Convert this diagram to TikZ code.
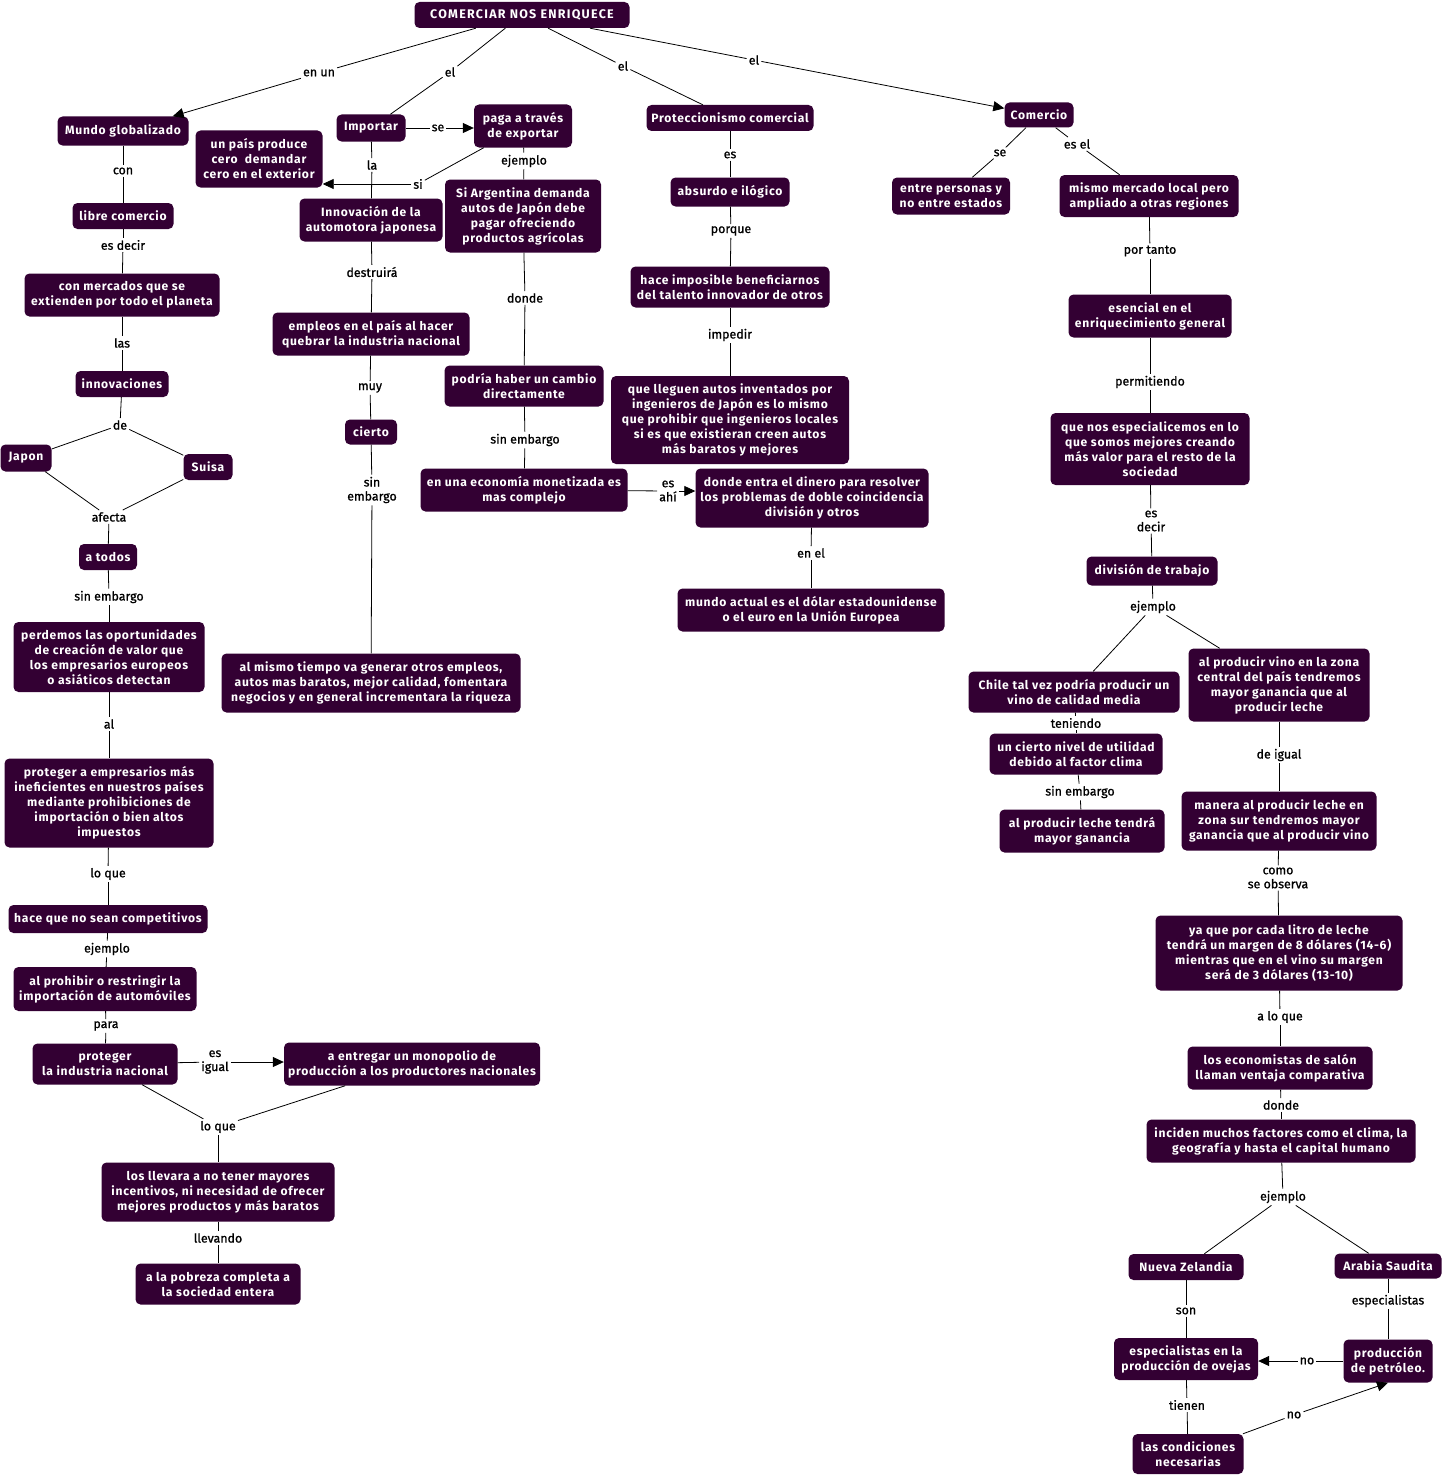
\documentclass[tikz,border=0pt]{standalone}
\usepackage{fontspec}
\setmainfont{Fira Sans}
\newfontfamily\nodefam{Fira Sans}[LetterSpace=6]
\newfontfamily\titlefam{Fira Sans}[LetterSpace=10]
\newfontfamily\lblfam{Fira Sans}[FakeBold=1]
\usetikzlibrary{arrows.meta}
\definecolor{cmap}{RGB}{51,0,51}
\newcommand\mkc[6]{\node[cpt,minimum width=#4pt,minimum height=#5pt] (#1) at (#2,#3) {#6};}
\newcommand\mkl[4]{\node[lbl] (#1) at (#2,#3) {#4};}
\begin{document}
\begin{tikzpicture}[x=1pt,y=-1pt,
 cpt/.style={fill=cmap, rounded corners=5pt, text=white, font=\nodefam\bfseries\fontsize{12.1}{15}\selectfont, align=center, inner sep=1pt},
 lbl/.style={font=\lblfam\fontsize{12.4}{14}\selectfont, inner sep=2pt, align=center},
 ln/.style={line width=0.8pt},
 arr/.style={line width=0.8pt, -{Triangle[length=11pt,width=10pt]}}
]
\useasboundingbox (0,0) rectangle (1443,1477);
% ---------- concepts ----------
\mkc{top}{522}{15}{215}{26}{\titlefam\bfseries\fontsize{12.5}{13}\selectfont COMERCIAR NOS ENRIQUECE}
\mkc{mundo}{123}{131}{131}{29}{Mundo globalizado}
\mkc{importar}{371}{128}{69}{27}{Importar}
\mkc{paga}{523}{126}{98}{43}{paga a través\\de exportar}
\mkc{unpais}{259}{159}{127}{57}{un país produce\\cero~ demandar\\cero en el exterior}
\mkc{innovjap}{371}{220}{143}{43}{Innovación de la\\automotora japonesa}
\mkc{argentina}{523}{216}{156}{73}{Si Argentina demanda\\autos de Japón debe\\pagar ofreciendo\\productos agrícolas}
\mkc{protec}{730}{118}{167}{26}{Proteccionismo comercial}
\mkc{absurdo}{730}{192}{119}{29}{absurdo e ilógico}
\mkc{hace}{730}{287}{199}{41}{hace imposible beneficiarnos\\del talento innovador de otros}
\mkc{llegue}{730}{420}{238}{88}{que lleguen autos inventados por\\ingenieros de Japón es lo mismo\\que prohibir que ingenieros locales\\si es que existieran creen autos\\más baratos y mejores}
\mkc{comercio}{1039}{115}{69}{25}{Comercio}
\mkc{entre}{951}{196}{118}{37}{entre personas y\\no entre estados}
\mkc{mismo}{1149}{196}{179}{42}{mismo mercado local pero\\ampliado a otras regiones}
\mkc{esencial}{1150}{316}{163}{43}{esencial en el\\enriquecimiento general}
\mkc{especial}{1150}{449}{199}{72}{que nos especialicemos en lo\\que somos mejores creando\\más valor para el resto de la\\sociedad}
\mkc{division}{1152}{571}{131}{29}{división de trabajo}
\mkc{chile}{1074}{692}{211}{41}{Chile tal vez podría producir un\\vino de calidad media}
\mkc{vino}{1279}{685}{181}{73}{al producir vino en la zona\\central del país tendremos\\mayor ganancia que al\\producir leche}
\mkc{cierto2}{1076}{754}{173}{41}{un cierto nivel de utilidad\\debido al factor clima}
\mkc{leche}{1082}{831}{165}{43}{al producir leche tendrá\\mayor ganancia}
\mkc{manera}{1279}{821}{195}{59}{manera al producir leche en\\zona sur tendremos mayor\\ganancia que al producir vino}
\mkc{yaque}{1279}{953}{247}{75}{ya que por cada litro de leche\\tendrá un margen de 8 dólares (14-6)\\mientras que en el vino su margen\\será de 3 dólares (13-10)}
\mkc{economistas}{1280}{1068}{185}{43}{los economistas de salón\\llaman ventaja comparativa}
\mkc{inciden}{1281}{1141}{269}{43}{inciden muchos factores como el clima, la\\geografía y hasta el capital humano}
\mkc{nz}{1186}{1267}{115}{26}{Nueva Zelandia}
\mkc{arabia}{1388}{1266}{107}{25}{Arabia Saudita}
\mkc{espov}{1186}{1359}{144}{42}{especialistas en la\\producción de ovejas}
\mkc{petro}{1388}{1361}{89}{43}{producción\\de petróleo.}
\mkc{condiciones}{1188}{1454}{111}{40}{las condiciones\\necesarias}
\mkc{empleos}{371}{334}{197}{43}{empleos en el país al hacer\\quebrar la industria nacional}
\mkc{cierto}{371}{432}{52}{25}{cierto}
\mkc{almismo}{371}{683}{299}{59}{al mismo tiempo va generar otros empleos,\\autos mas baratos, mejor calidad, fomentara\\negocios y en general incrementara la riqueza}
\mkc{podria}{524}{386}{159}{41}{podría haber un cambio\\directamente}
\mkc{economia}{524}{490}{207}{43}{en una economía monetizada es\\mas complejo}
\mkc{dinero}{812}{498}{233}{59}{donde entra el dinero para resolver\\los problemas de doble coincidencia\\división y otros}
\mkc{mundoact}{811}{610}{267}{43}{mundo actual es el dólar estadounidense\\o el euro en la Unión Europea}
\mkc{libre}{123}{216}{101}{26}{libre comercio}
\mkc{mercados}{122}{295}{195}{43}{con mercados que se\\extienden por todo el planeta}
\mkc{innov}{122}{384}{93}{26}{innovaciones}
\mkc{japon}{26}{458}{51}{27}{Japon}
\mkc{suisa}{208}{467}{49}{26}{Suisa}
\mkc{atodos}{108}{557}{58}{26}{a todos}
\mkc{perdemos}{109}{657}{191}{70}{perdemos las oportunidades\\de creación de valor que\\los empresarios europeos\\o asiáticos detectan}
\mkc{protegerEmp}{109}{803}{209}{89}{proteger a empresarios más\\ineficientes en nuestros países\\mediante prohibiciones de\\importación o bien altos\\impuestos}
\mkc{hacequeno}{108}{919}{199}{28}{hace que no sean competitivos}
\mkc{prohibir}{105}{989}{183}{44}{al prohibir o restringir la\\importación de automóviles}
\mkc{protInd}{105}{1064}{145}{41}{proteger\\la industria nacional}
\mkc{monop}{412}{1064}{256}{43}{a entregar un monopolio de\\producción a los productores nacionales}
\mkc{llevara}{218}{1192}{233}{59}{los llevara a no tener mayores\\incentivos, ni necesidad de ofrecer\\mejores productos y más baratos}
\mkc{pobreza}{218}{1284}{165}{41}{a la pobreza completa a\\la sociedad entera}
% ---------- linking phrases ----------
\mkl{enun}{319}{73}{en un}
\mkl{elA}{450}{72}{el}
\mkl{elB}{623}{66}{el}
\mkl{elC}{754}{60}{el}
\mkl{con}{123}{171}{con}
\mkl{esdecirA}{123}{245}{es decir}
\mkl{las}{122}{343}{las}
\mkl{de}{120}{425}{de}
\mkl{afecta}{109}{517}{afecta}
\mkl{sinembA}{109}{597}{sin embargo}
\mkl{al}{109}{724}{al}
\mkl{loqueA}{108}{874}{lo que}
\mkl{ejA}{107}{949}{ejemplo}
\mkl{para}{106}{1026}{para}
\mkl{esigual}{215}{1062}{es\\igual}
\mkl{loqueB}{218}{1127}{lo que}
\mkl{llevando}{218}{1238}{llevando}
\mkl{se}{438}{128}{se}
\mkl{la}{372}{165}{la}
\mkl{si}{418}{184}{si}
\mkl{ejB}{524}{161}{ejemplo}
\mkl{destruira}{372}{272}{destruirá}
\mkl{muy}{370}{388}{muy}
\mkl{sinembB}{372}{490}{sin\\embargo}
\mkl{dondeA}{525}{298}{donde}
\mkl{sinembC}{525}{440}{sin embargo}
\mkl{esahi}{668}{491}{es\\ahí}
\mkl{es}{730}{155}{es}
\mkl{porque}{731}{231}{porque}
\mkl{impedir}{730}{335}{impedir}
\mkl{enel}{811}{553}{en el}
\mkl{seB}{1000}{153}{se}
\mkl{esel}{1077}{144}{es el}
\mkl{portanto}{1150}{251}{por tanto}
\mkl{permitiendo}{1150}{382}{permitiendo}
\mkl{esdecirB}{1151}{521}{es\\decir}
\mkl{ejC}{1153}{607}{ejemplo}
\mkl{teniendo}{1076}{723}{teniendo}
\mkl{sinembD}{1080}{792}{sin embargo}
\mkl{deigual}{1279}{755}{de igual}
\mkl{como}{1278}{878}{como\\se observa}
\mkl{aloque}{1280}{1017}{a lo que}
\mkl{dondeB}{1281}{1105}{donde}
\mkl{ejD}{1283}{1197}{ejemplo}
\mkl{son}{1186}{1311}{son}
\mkl{especialistas}{1388}{1301}{especialistas}
\mkl{noA}{1307}{1361}{no}
\mkl{tienen}{1187}{1405}{tienen}
\mkl{noB}{1294}{1415}{no}
% ---------- connectors ----------
\draw[ln] (top) -- (enun); \draw[arr] (enun) -- (mundo);
\draw[ln] (top) -- (elA); \draw[ln] (elA) -- (importar);
\draw[ln] (top) -- (elB); \draw[ln] (elB) -- (protec);
\draw[ln] (top) -- (elC); \draw[arr] (elC) -- (comercio);
\draw[ln] (mundo) -- (con); \draw[ln] (con) -- (libre);
\draw[ln] (libre) -- (esdecirA); \draw[ln] (esdecirA) -- (mercados);
\draw[ln] (mercados) -- (las); \draw[ln] (las) -- (innov);
\draw[ln] (innov) -- (de); \draw[ln] (de) -- (japon); \draw[ln] (de) -- (suisa);
\draw[ln] (japon) -- (afecta); \draw[ln] (suisa) -- (afecta); \draw[ln] (afecta) -- (atodos);
\draw[ln] (atodos) -- (sinembA); \draw[ln] (sinembA) -- (perdemos);
\draw[ln] (perdemos) -- (al); \draw[ln] (al) -- (protegerEmp);
\draw[ln] (protegerEmp) -- (loqueA); \draw[ln] (loqueA) -- (hacequeno);
\draw[ln] (hacequeno) -- (ejA); \draw[ln] (ejA) -- (prohibir);
\draw[ln] (prohibir) -- (para); \draw[ln] (para) -- (protInd);
\draw[ln] (protInd) -- (esigual); \draw[arr] (esigual) -- (esigual -| monop.west);
\draw[ln] (protInd) -- (loqueB); \draw[ln] (monop) -- (loqueB); \draw[ln] (loqueB) -- (llevara);
\draw[ln] (llevara) -- (llevando); \draw[ln] (llevando) -- (pobreza);
\draw[ln] (importar) -- (se); \draw[arr] (se) -- (se -| paga.west);
\draw[ln] (importar) -- (la); \draw[ln] (la) -- (innovjap);
\draw[ln] (paga) -- (si); \draw[arr] (si) -- (si -| unpais.east);
\draw[ln] (paga) -- (ejB); \draw[ln] (ejB) -- (argentina);
\draw[ln] (innovjap) -- (destruira); \draw[ln] (destruira) -- (empleos);
\draw[ln] (empleos) -- (muy); \draw[ln] (muy) -- (cierto);
\draw[ln] (cierto) -- (sinembB); \draw[ln] (sinembB) -- (almismo);
\draw[ln] (argentina) -- (dondeA); \draw[ln] (dondeA) -- (podria);
\draw[ln] (podria) -- (sinembC); \draw[ln] (sinembC) -- (economia);
\draw[ln] (economia) -- (esahi); \draw[arr] (esahi) -- (esahi -| dinero.west);
\draw[ln] (dinero) -- (enel); \draw[ln] (enel) -- (mundoact);
\draw[ln] (protec) -- (es); \draw[ln] (es) -- (absurdo);
\draw[ln] (absurdo) -- (porque); \draw[ln] (porque) -- (hace);
\draw[ln] (hace) -- (impedir); \draw[ln] (impedir) -- (llegue);
\draw[ln] (comercio) -- (seB); \draw[ln] (seB) -- (entre);
\draw[ln] (comercio) -- (esel); \draw[ln] (esel) -- (mismo);
\draw[ln] (mismo) -- (portanto); \draw[ln] (portanto) -- (esencial);
\draw[ln] (esencial) -- (permitiendo); \draw[ln] (permitiendo) -- (especial);
\draw[ln] (especial) -- (esdecirB); \draw[ln] (esdecirB) -- (division);
\draw[ln] (division) -- (ejC); \draw[ln] (ejC) -- (chile); \draw[ln] (ejC) -- (vino);
\draw[ln] (chile) -- (teniendo); \draw[ln] (teniendo) -- (cierto2);
\draw[ln] (cierto2) -- (sinembD); \draw[ln] (sinembD) -- (leche);
\draw[ln] (vino) -- (deigual); \draw[ln] (deigual) -- (manera);
\draw[ln] (manera) -- (como); \draw[ln] (como) -- (yaque);
\draw[ln] (yaque) -- (aloque); \draw[ln] (aloque) -- (economistas);
\draw[ln] (economistas) -- (dondeB); \draw[ln] (dondeB) -- (inciden);
\draw[ln] (inciden) -- (ejD); \draw[ln] (ejD) -- (nz); \draw[ln] (ejD) -- (arabia);
\draw[ln] (nz) -- (son); \draw[ln] (son) -- (espov);
\draw[ln] (arabia) -- (especialistas); \draw[ln] (especialistas) -- (petro);
\draw[ln] (petro) -- (noA); \draw[arr] (noA) -- (noA -| espov.east);
\draw[ln] (espov) -- (tienen); \draw[ln] (tienen) -- (condiciones);
\draw[ln] (condiciones) -- (noB); \draw[arr] (noB) -- (petro.south);
\end{tikzpicture}
\end{document}
